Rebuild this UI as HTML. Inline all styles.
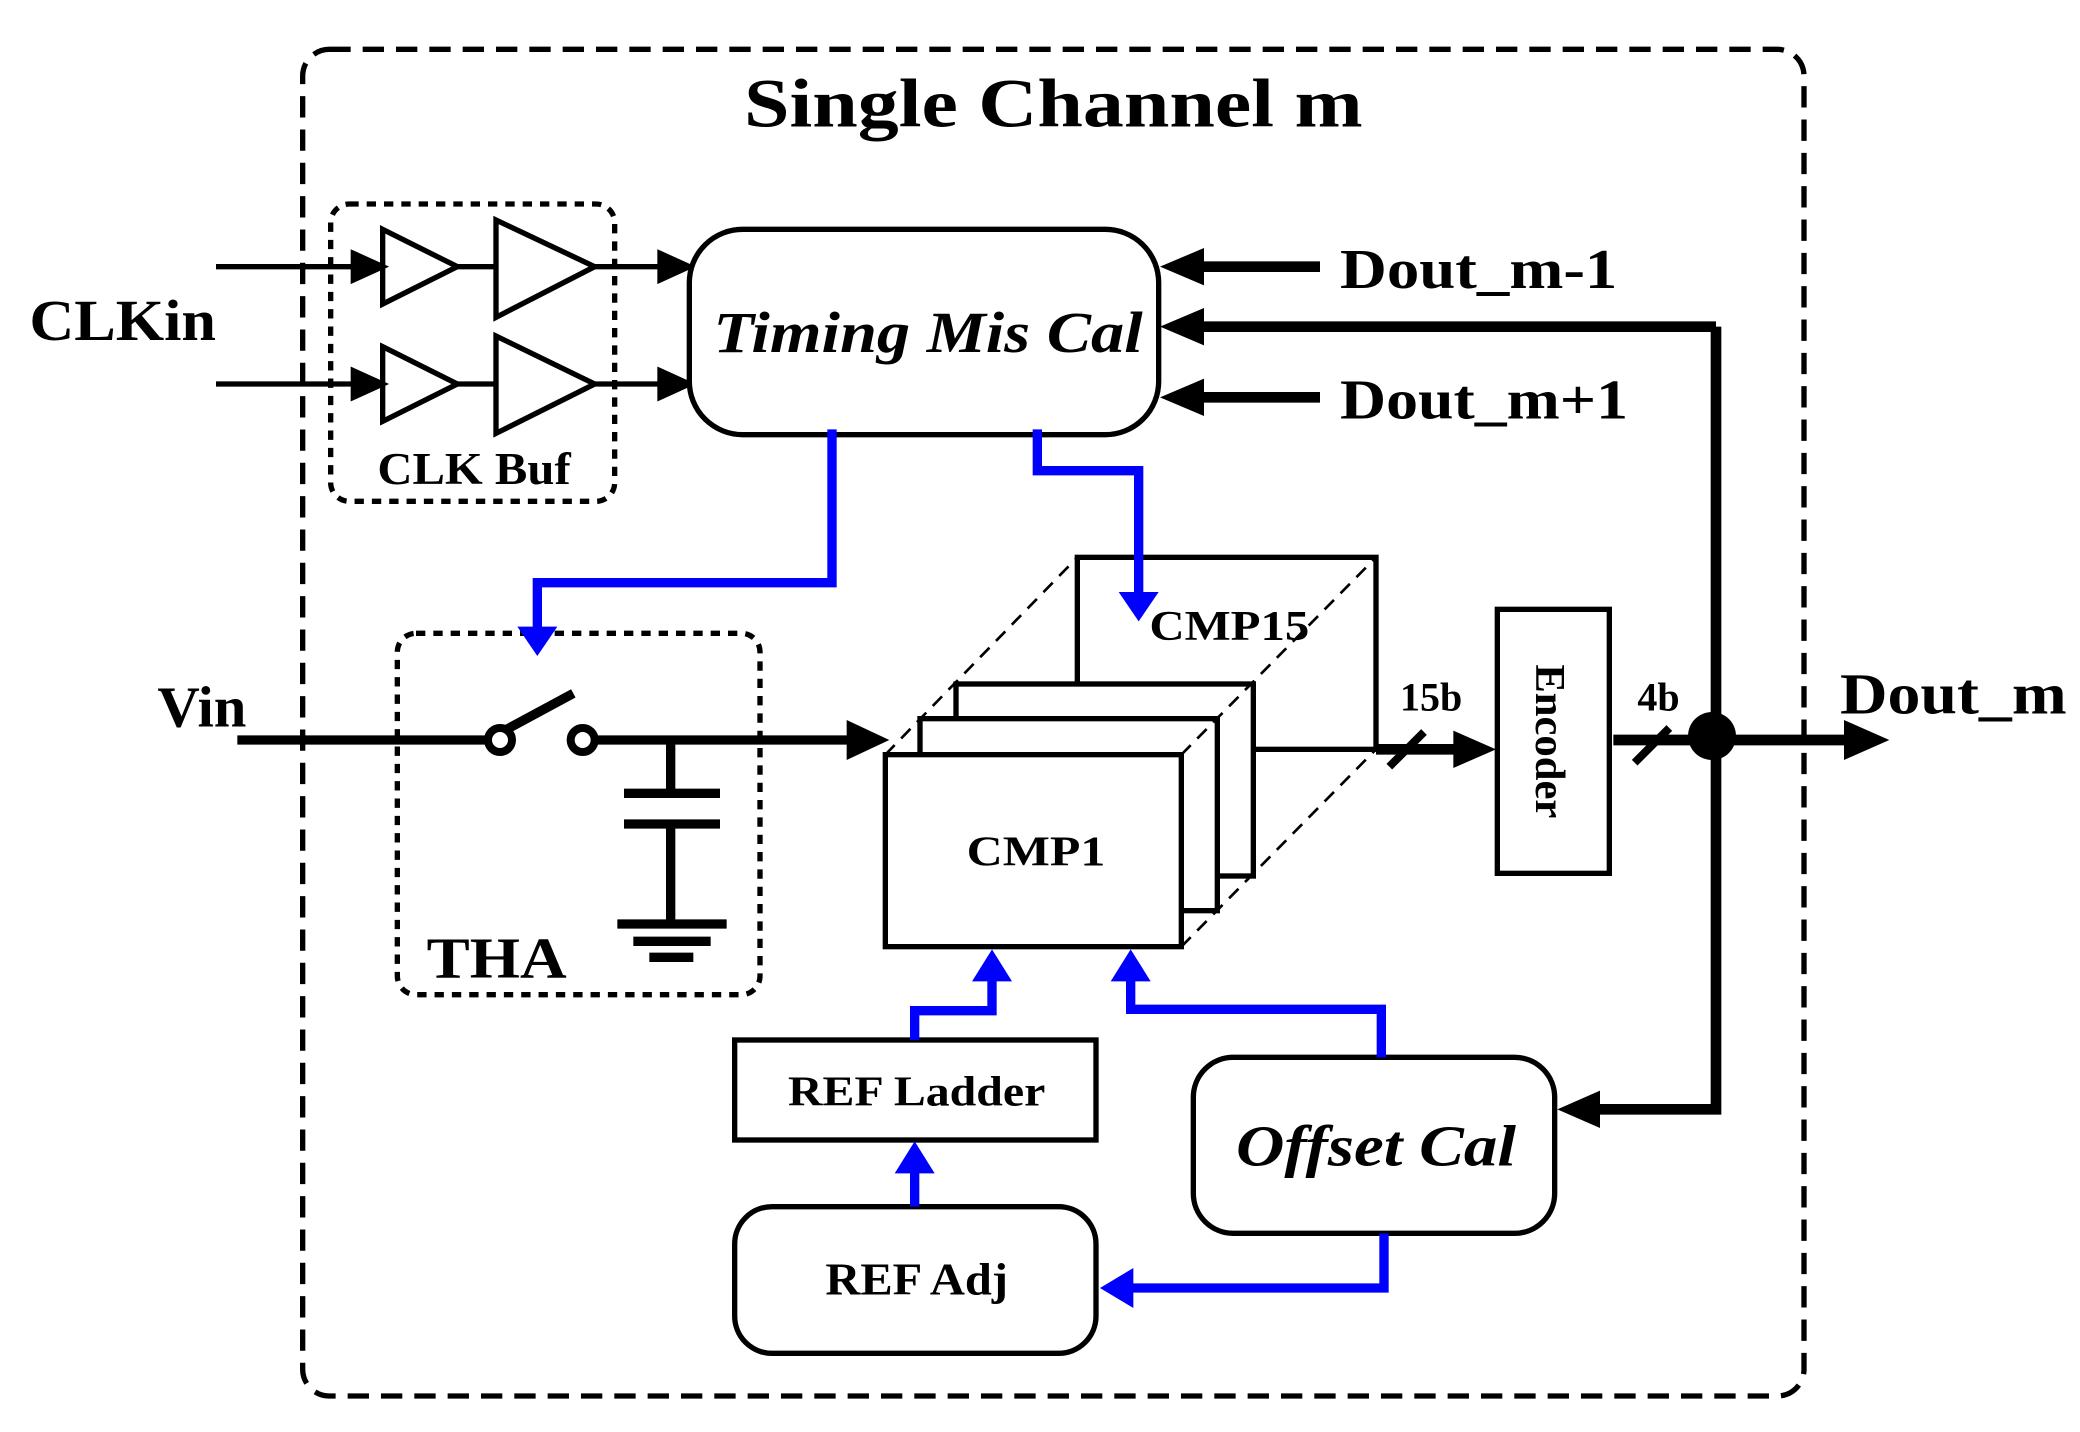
<!DOCTYPE html>
<html><head><meta charset="utf-8"><style>
html,body{margin:0;padding:0;background:#fff;}
svg{display:block;}
text{font-family:"Liberation Serif",serif;font-weight:bold;fill:#000;}
</style></head><body>
<svg width="2080" height="1432" viewBox="0 0 1560 1074" preserveAspectRatio="none" xmlns="http://www.w3.org/2000/svg">
<!-- outer -->
<rect x="227" y="37" width="1126" height="1010" rx="20" fill="none" stroke="#000" stroke-width="4" stroke-dasharray="16,9"/>
<text x="558" y="95" font-size="52" textLength="464" lengthAdjust="spacingAndGlyphs">Single Channel m</text>
<!-- CLK buf -->
<rect x="248" y="153" width="213" height="223" rx="14" fill="none" stroke="#000" stroke-width="4" stroke-dasharray="7,6"/>
<text x="283" y="363" font-size="34" textLength="145" lengthAdjust="spacingAndGlyphs">CLK Buf</text>
<text x="22" y="255" font-size="44" textLength="140" lengthAdjust="spacingAndGlyphs">CLKin</text>
<g stroke="#000" stroke-width="4" fill="none">
<line x1="162" y1="200" x2="270" y2="200"/><path d="M265,190 L287,200 L265,210z" fill="#000"/>
<path d="M287,172 L343,200 L287,228z"/><line x1="343" y1="200" x2="372" y2="200"/>
<path d="M372,165 L446,200 L372,238z"/><line x1="446" y1="200" x2="500" y2="200"/><path d="M495,190 L517,200 L495,210z" fill="#000"/>
<line x1="162" y1="288" x2="270" y2="288"/><path d="M265,278 L287,288 L265,298z" fill="#000"/>
<path d="M287,260 L343,288 L287,316z"/><line x1="343" y1="288" x2="372" y2="288"/>
<path d="M372,252 L446,288 L372,325z"/><line x1="446" y1="288" x2="500" y2="288"/><path d="M495,278 L517,288 L495,298z" fill="#000"/>
</g>
<!-- Timing -->
<rect x="517" y="172" width="352" height="154" rx="40" fill="#fff" stroke="#000" stroke-width="4"/>
<text x="535" y="264" font-size="44" font-style="italic" textLength="322" lengthAdjust="spacingAndGlyphs">Timing Mis Cal</text>
<g stroke="#000" stroke-width="8" fill="none">
<line x1="990" y1="200" x2="895" y2="200"/>
<line x1="1287" y1="245" x2="895" y2="245"/>
<line x1="990" y1="298" x2="895" y2="298"/>
<polyline points="1287,245 1287,832 1195,832"/>
<line x1="1210" y1="555" x2="1390" y2="555"/>
<line x1="1032" y1="562" x2="1100" y2="562"/>
</g>
<g fill="#000">
<path d="M870,200 L903,186 L903,214z"/>
<path d="M870,245 L903,231 L903,259z"/>
<path d="M870,298 L903,284 L903,312z"/>
<path d="M1168,832 L1200,818 L1200,846z"/>
<path d="M1417,555 L1383,540 L1383,570z"/>
<path d="M1122,562 L1090,548 L1090,576z"/>
<circle cx="1284" cy="552" r="18"/>
</g>
<g stroke="#000" stroke-width="6"><line x1="1042" y1="575" x2="1068" y2="549"/><line x1="1226" y1="572" x2="1252" y2="546"/></g>
<text x="1005" y="216" font-size="42" textLength="208" lengthAdjust="spacingAndGlyphs">Dout_m-1</text>
<text x="1005" y="314" font-size="42" textLength="216" lengthAdjust="spacingAndGlyphs">Dout_m+1</text>
<text x="1380" y="535" font-size="44" textLength="170" lengthAdjust="spacingAndGlyphs">Dout_m</text>
<text x="1050" y="533" font-size="30">15b</text>
<text x="1228" y="533" font-size="30">4b</text>
<!-- Vin / THA -->
<text x="118" y="545" font-size="44">Vin</text>
<rect x="298" y="475" width="272" height="271" rx="14" fill="none" stroke="#000" stroke-width="4" stroke-dasharray="7,6"/>
<text x="320" y="733" font-size="44" textLength="105" lengthAdjust="spacingAndGlyphs">THA</text>
<g stroke="#000" stroke-width="7" fill="none">
<line x1="178" y1="555" x2="365" y2="555"/>
<line x1="447" y1="555" x2="645" y2="555"/>
<line x1="380" y1="547" x2="430" y2="520"/>
<circle cx="375" cy="555" r="9" stroke-width="6"/>
<circle cx="437" cy="555" r="9" stroke-width="6"/>
<line x1="503" y1="555" x2="503" y2="595"/>
<line x1="468" y1="595" x2="540" y2="595"/>
<line x1="468" y1="618" x2="540" y2="618"/>
<line x1="503" y1="618" x2="503" y2="693"/>
<line x1="463" y1="693" x2="545" y2="693"/>
<line x1="475" y1="706" x2="533" y2="706"/>
<line x1="487" y1="718" x2="520" y2="718"/>
</g>
<path d="M667,555 L635,540 L635,570z" fill="#000"/>
<!-- CMPs -->
<g stroke="#000" stroke-width="4" fill="#fff">
<rect x="808" y="418" width="224" height="144"/>
<rect x="717" y="513" width="223" height="144"/>
<rect x="690" y="539" width="223" height="144"/>
<rect x="664" y="566" width="222" height="144"/>
</g>
<g stroke="#000" stroke-width="2" stroke-dasharray="10,7" fill="none">
<line x1="664" y1="566" x2="808" y2="418"/>
<line x1="886" y1="566" x2="1032" y2="418"/>
<line x1="886" y1="710" x2="1032" y2="562"/>
</g>
<text x="862" y="480" font-size="32" textLength="120" lengthAdjust="spacingAndGlyphs">CMP15</text>
<text x="725" y="649" font-size="32" textLength="104" lengthAdjust="spacingAndGlyphs">CMP1</text>
<!-- Encoder -->
<rect x="1123" y="457" width="84" height="198" fill="#fff" stroke="#000" stroke-width="4"/>
<text transform="translate(1152,556) rotate(90)" font-size="32" text-anchor="middle">Encoder</text>
<!-- bottom -->
<rect x="551" y="780" width="271" height="75" fill="#fff" stroke="#000" stroke-width="4"/>
<text x="591" y="829" font-size="32" textLength="193" lengthAdjust="spacingAndGlyphs">REF Ladder</text>
<rect x="551" y="905" width="271" height="110" rx="28" fill="#fff" stroke="#000" stroke-width="4"/>
<text x="619" y="971" font-size="34" textLength="137" lengthAdjust="spacingAndGlyphs">REF Adj</text>
<rect x="895" y="793" width="271" height="132" rx="30" fill="#fff" stroke="#000" stroke-width="4"/>
<text x="927" y="874" font-size="44" font-style="italic" textLength="210" lengthAdjust="spacingAndGlyphs">Offset Cal</text>
<!-- blue (on top) -->
<g stroke="#0000ff" stroke-width="7" fill="none">
<polyline points="624,322 624,437 403,437 403,478"/>
<polyline points="778,322 778,353 854,353 854,448"/>
<polyline points="686,780 686,758 744,758 744,728"/>
<line x1="686" y1="905" x2="686" y2="872"/>
<polyline points="1036,793 1036,757 848,757 848,728"/>
<polyline points="1038,925 1038,966 845,966"/>
</g>
<g fill="#0000ff">
<path d="M403,492 L388,470 L418,470z"/>
<path d="M854,466 L839,444 L869,444z"/>
<path d="M744,712 L729,736 L759,736z"/>
<path d="M686,856 L671,880 L701,880z"/>
<path d="M848,712 L833,736 L863,736z"/>
<path d="M825,966 L850,951 L850,981z"/>
</g>
</svg>
</body></html>
